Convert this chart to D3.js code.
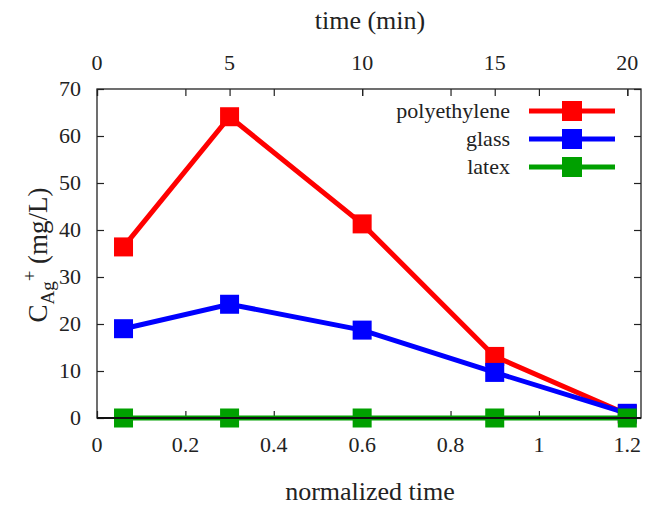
<!DOCTYPE html>
<html>
<head>
<meta charset="utf-8">
<script src="https://cdn.jsdelivr.net/npm/d3@7"></script>
</head>
<body style="margin:0">
<svg id="svg" width="647" height="508"></svg>
<script>
// normalized time of each sample (1, 5, 10, 15, 20 min)
var normTime = [0.06, 0.3, 0.6, 0.9, 1.2]
var polyethylene = [36.4, 64.1, 41.3, 13.1, 0.8]
var glass = [19.0, 24.2, 18.7, 9.7, 1.0]
var latex = [0, 0, 0, 0, 0]

var bottomTicks = [0, 0.2, 0.4, 0.6, 0.8, 1, 1.2]
var topTicks = [0, 5, 10, 15, 20]
var yTicks = [0, 10, 20, 30, 40, 50, 60, 70]

var seriesNames = ["polyethylene", "glass", "latex"]
var seriesColors = ["#ff0000", "#0000ff", "#00a000"]

var svg = d3.select("#svg"),
    margin = { top: 89, right: 6, bottom: 90, left: 97 },
    width = +svg.attr("width") - margin.left - margin.right,
    height = +svg.attr("height") - margin.top - margin.bottom;

function label(sel, size) {
    return sel.append("text")
        .attr("font-size", size)
        .attr("font-family", function () { return "Times New Roman" })
        .attr("fill", "#222")
}

var g = svg.append("g")
    .attr("transform", translate(margin.left, margin.top));

var x = d3.scaleLinear().domain([0, 1.231]).range([0, width])
// 20 min lines up with 1.2 on the bottom axis
var xTop = d3.scaleLinear().domain([0, 20]).range([0, x(1.2)])
var y = d3.scaleLinear().domain([0, 70]).range([height, 0])

// tick marks only, labels are plain text
function tickMarks(axis, vals) {
    return axis.tickValues(vals).tickSize(-7).tickFormat("")
}
g.append("g").attr("transform", translate(0, height)).call(tickMarks(d3.axisBottom(x), bottomTicks))
g.append("g").call(tickMarks(d3.axisTop(xTop), topTicks))
g.append("g").call(tickMarks(d3.axisTop(x), bottomTicks))
g.append("g").call(tickMarks(d3.axisLeft(y), yTicks))
g.append("g").attr("transform", translate(width, 0)).call(tickMarks(d3.axisRight(y), yTicks))
g.selectAll(".domain").remove()
g.selectAll(".tick text").remove()
g.selectAll(".tick line").attr("stroke", "#222").attr("stroke-width", 1.2)

bottomTicks.forEach(function (v) {
    label(g, 22).attr("x", x(v)).attr("y", height + 34)
        .attr("text-anchor", "middle").text(d3.format("")(v))
})
topTicks.forEach(function (v) {
    label(g, 22).attr("x", xTop(v)).attr("y", -19)
        .attr("text-anchor", "middle").text(v)
})
yTicks.forEach(function (v) {
    label(g, 22).attr("x", -16).attr("y", y(v)).attr("dy", "0.33em")
        .attr("text-anchor", "end").text(v)
})

var clip = svg.append("clipPath").attr("id", "clip")
clip.append("rect").attr("width", width).attr("height", height + 24).attr("y", -12)

var allSeries = [polyethylene, glass, latex]
var line = d3.line()
    .x(function (d, i) { return x(normTime[i]) })
    .y(function (d) { return y(d) })

var plot = g.append("g").attr("clip-path", "url(#clip)")

allSeries.forEach(function (vals, k) {
    var s = plot.append("g")
    s.append("path")
        .datum(vals)
        .attr("fill", "none")
        .attr("stroke", seriesColors[k])
        .attr("stroke-width", 5)
        .attr("d", line)
    s.selectAll("rect")
        .data(vals)
        .enter().append("rect")
        .attr("x", function (d, i) { return x(normTime[i]) - 9.5 })
        .attr("y", function (d) { return y(d) - 9.5 })
        .attr("width", 19)
        .attr("height", 19)
        .attr("fill", seriesColors[k])
})

// frame, bottom edge drawn over the latex markers
g.append("rect")
    .attr("width", width).attr("height", height)
    .attr("fill", "none").attr("stroke", "#222").attr("stroke-width", 1.3)
g.append("line")
    .attr("x1", 0).attr("x2", width).attr("y1", height).attr("y2", height)
    .attr("stroke", "#111").attr("stroke-width", 2)

// legend
seriesNames.forEach(function (name, i) {
    var row = g.append("g").attr("transform", translate(0, 22 + i * 28))
    label(row, 22).attr("x", 413).attr("dy", "0.32em")
        .attr("text-anchor", "end").text(name)
    row.append("line")
        .attr("x1", 432).attr("x2", 518)
        .attr("stroke", seriesColors[i]).attr("stroke-width", 5)
    row.append("rect")
        .attr("x", 465).attr("y", -10).attr("width", 20).attr("height", 20)
        .attr("fill", seriesColors[i])
})

// axis titles
label(svg, 26).attr("x", 370).attr("y", 29)
    .attr("text-anchor", "middle").text("time (min)")
label(svg, 26).attr("x", 370).attr("y", 500)
    .attr("text-anchor", "middle").text("normalized time")

var yl = label(svg, 27)
    .attr("transform", "translate(47,255) rotate(-90)")
    .attr("text-anchor", "middle")
yl.append("tspan").text("C")
yl.append("tspan").attr("font-size", 19).attr("dy", 7).text("Ag")
yl.append("tspan").attr("font-size", 19).attr("dy", -18).text("+")
yl.append("tspan").attr("dy", 11).text(" (mg/L)")

function translate(x, y) {
    return "translate(" + x + "," + y + ")";
}
</script>
</body>
</html>
